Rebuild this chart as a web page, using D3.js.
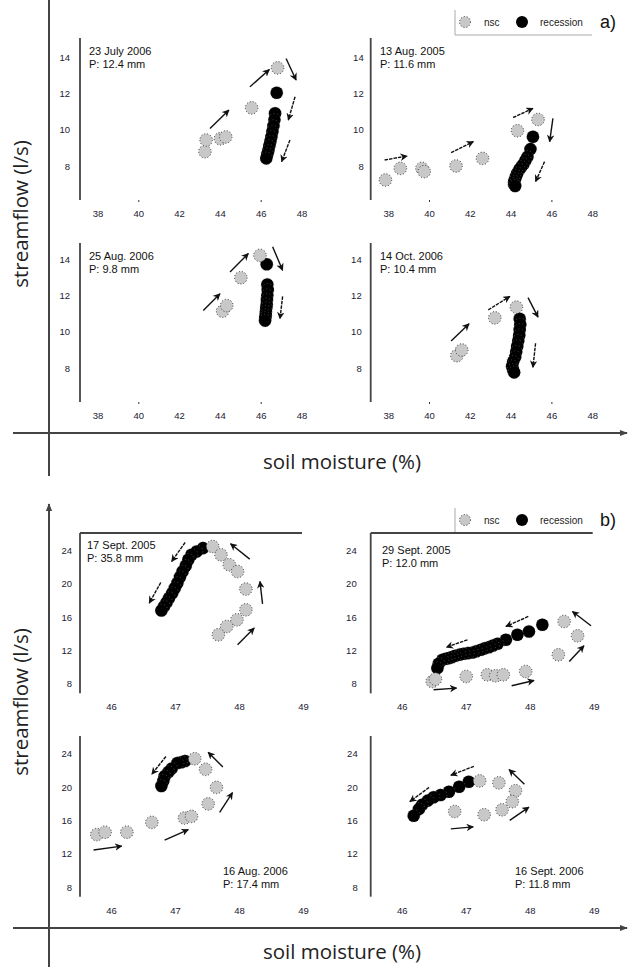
<!DOCTYPE html>
<html><head><meta charset="utf-8">
<script src="https://cdn.jsdelivr.net/npm/d3@7"></script>
<style>body{margin:0;background:#fff}</style>
</head><body><svg id="c" width="628" height="967"></svg>
<script>
// ---------- data ----------
const xTicksA = [38, 40, 42, 44, 46, 48];
const yTicksA = [8, 10, 12, 14];
const xTicksB = [46, 47, 48, 49];
const yTicksB = [8, 12, 16, 20, 24];
const legendLabels = ["nsc", "recession"];

const eventsA = ["23 July 2006", "13 Aug. 2005", "25 Aug. 2006", "14 Oct. 2006"];
const rainA = ["P: 12.4 mm", "P: 11.6 mm", "P: 9.8 mm", "P: 10.4 mm"];
const eventsB = ["17 Sept. 2005", "29 Sept. 2005", "16 Aug. 2006", "16 Sept. 2006"];
const rainB = ["P: 35.8 mm", "P: 12.0 mm", "P: 17.4 mm", "P: 11.8 mm"];

// [soil moisture %, streamflow l/s]
const nscA1 = [[43.24,8.79],[43.3,9.43],[44.0,9.5],[44.26,9.6],[45.53,11.2],[46.8,13.4]];
const recA1 = [[46.76,12.03],[46.68,10.9],[46.65,10.55],[46.6,10.2],[46.55,9.9],[46.5,9.6],[46.45,9.35],[46.4,9.1],[46.35,8.85],[46.3,8.65],[46.25,8.42]];
const arrA1 = [[43.49,10.07,44.42,11.08,0],[45.45,12.36,46.40,13.31,0],[47.22,13.92,47.71,12.73,0],[47.66,11.81,47.33,10.53,1],[47.41,9.43,47.0,8.24,1]];

const nscA2 = [[37.84,7.23],[38.57,7.87],[39.63,7.87],[39.74,7.69],[41.3,8.0],[42.6,8.42],[44.31,9.94],[45.32,10.56]];
const recA2 = [[45.07,9.61],[44.95,8.93],[44.8,8.5],[44.7,8.3],[44.6,8.1],[44.5,7.95],[44.4,7.8],[44.3,7.6],[44.25,7.45],[44.2,7.3],[44.15,7.15],[44.15,7.0],[44.2,6.9]];
const arrA2 = [[37.8,8.33,38.9,8.55,1],[41.06,8.73,42.15,9.34,1],[44.1,10.67,45.07,11.17,1],[46.05,10.62,45.89,9.34,0],[45.64,8.24,45.2,7.14,1]];

const nscA3 = [[44.11,11.13],[44.31,11.44],[45.0,12.97],[45.94,14.2]];
const recA3 = [[46.27,13.71],[46.3,12.6],[46.32,12.3],[46.3,12.0],[46.28,11.75],[46.27,11.5],[46.25,11.3],[46.23,11.1],[46.22,10.9],[46.2,10.75],[46.19,10.61]];
const arrA3 = [[43.16,11.17,43.98,12.09,0],[44.47,13.29,45.37,14.3,0],[46.56,14.67,47.05,13.38,0],[47.05,11.94,46.92,10.71,1]];

const nscA4 = [[41.34,8.68],[41.58,8.99],[43.2,10.76],[44.26,11.35]];
const recA4 = [[44.42,10.71],[44.45,10.4],[44.42,10.1],[44.4,9.8],[44.35,9.5],[44.3,9.2],[44.25,8.9],[44.2,8.6],[44.1,8.35],[44.05,8.1],[44.1,7.9],[44.15,7.76]];
const arrA4 = [[41.06,9.48,41.94,10.43,0],[42.88,11.2,43.94,11.94,1],[44.83,11.87,45.32,10.8,0],[45.2,9.36,45.07,8.04,1]];

const nscB1 = [[47.58,24.48],[47.71,23.49],[47.84,22.29],[47.97,21.48],[48.1,19.37],[48.1,16.88],[47.96,15.68],[47.8,14.88],[47.67,13.88]];
const recB1 = [[47.43,24.29],[47.33,23.88],[47.25,23.49],[47.2,22.89],[47.16,22.17],[47.11,21.48],[47.07,20.81],[47.03,20.09],[46.99,19.49],[46.95,18.89],[46.9,18.29],[46.86,17.76],[46.82,17.28],[46.78,16.8]];
const arrB1 = [[47.15,24.96,46.94,22.68,1],[46.77,20.16,46.59,17.69,1],[48.16,22.97,47.86,24.81,0],[48.36,17.6,48.32,20.28,0],[47.97,12.68,48.23,14.69,0]];

const nscB2 = [[46.47,8.28],[46.52,8.56],[47.0,8.88],[47.33,9.08],[47.46,8.96],[47.58,9.08],[47.93,9.48],[48.44,11.48],[48.74,13.76],[48.53,15.48]];
const recB2 = [[48.19,15.08],[47.98,14.28],[47.8,13.88],[47.62,13.28],[47.49,12.8],[47.42,12.6],[47.36,12.4],[47.29,12.25],[47.23,12.08],[47.16,11.9],[47.1,11.76],[47.03,11.68],[46.96,11.6],[46.9,11.5],[46.83,11.36],[46.78,11.2],[46.73,11.08],[46.68,11.0],[46.63,10.88],[46.57,10.4],[46.55,9.88]];
const arrB2 = [[47.97,16.08,47.62,14.88,1],[47.02,13.28,46.69,12.4,1],[46.49,7.28,46.85,7.48,0],[47.71,7.76,48.06,8.4,0],[48.61,10.68,48.84,12.56,0],[48.95,14.96,48.66,16.68,0]];

const nscB3 = [[45.77,14.32],[45.9,14.6],[46.24,14.6],[46.63,15.78],[47.14,16.3],[47.25,16.5],[47.51,18.0],[47.64,19.98],[47.47,22.15],[47.3,23.42]];
const recB3 = [[47.15,23.14],[47.09,23.0],[47.03,22.9],[46.94,22.23],[46.89,21.83],[46.83,21.32],[46.81,20.76],[46.78,20.14]];
const arrB3 = [[46.85,23.69,46.63,21.56,1],[47.74,22.43,47.51,24.2,0],[47.69,16.97,47.89,19.34,0],[46.83,13.65,47.2,14.92,0],[45.72,12.46,46.16,12.93,0]];

const nscB4 = [[47.21,20.76],[47.51,20.53],[47.77,19.58],[47.72,18.27],[47.56,17.29],[47.28,16.7],[46.82,17.09]];
const recB4 = [[47.04,20.65],[46.89,20.05],[46.73,19.46],[46.6,19.07],[46.49,18.8],[46.4,18.39],[46.31,17.88],[46.26,17.37],[46.18,16.58]];
const arrB4 = [[47.12,22.51,46.76,21.44,1],[46.42,19.98,46.12,18.27,1],[47.91,20.37,47.67,22.12,0],[47.68,16.02,47.98,17.61,0],[46.76,15.0,47.11,15.24,0]];

// ---------- layout ----------
const svg = d3.select("#c");
const defs = svg.append("defs");
defs.append("marker").attr("id","ah").attr("viewBox","0 0 10 10")
  .attr("refX",9).attr("refY",5).attr("markerWidth",7.5).attr("markerHeight",7.5)
  .attr("markerUnits","userSpaceOnUse").attr("orient","auto")
  .append("path").attr("d","M0,0 L10,5 L0,10 L3,5 Z").attr("fill","#111");
defs.append("marker").attr("id","bigah").attr("viewBox","0 0 10 10")
  .attr("refX",9).attr("refY",5).attr("markerWidth",8).attr("markerHeight",8)
  .attr("markerUnits","userSpaceOnUse").attr("orient","auto")
  .append("path").attr("d","M0,1 L10,5 L0,9 Z").attr("fill","#444");

const FONT = "'Liberation Sans', Arial, sans-serif";
const TITLEFONT = "'Open Sans', 'Noto Sans', sans-serif";

// outer axes
const outer = svg.append("g").attr("stroke","#444").attr("stroke-width",2);
outer.append("line").attr("x1",49).attr("x2",49).attr("y1",0).attr("y2",476);
outer.append("line").attr("x1",13).attr("x2",627).attr("y1",433).attr("y2",433).attr("marker-end","url(#bigah)");
outer.append("line").attr("x1",49).attr("x2",49).attr("y1",967).attr("y2",504).attr("marker-end","url(#bigah)");
outer.append("line").attr("x1",13).attr("x2",627).attr("y1",928).attr("y2",928).attr("marker-end","url(#bigah)");

function ylabel(cy){
  svg.append("text").attr("transform",`translate(28,${cy}) rotate(-90)`)
    .attr("text-anchor","middle").attr("font-family",TITLEFONT).attr("font-size",20.5)
    .attr("fill","#222").text("streamflow (l/s)");
}
function xlabel(y){
  svg.append("text").attr("x",342).attr("y",y).attr("text-anchor","middle")
    .attr("font-family",TITLEFONT).attr("font-size",20.5).attr("fill","#222").text("soil moisture (%)");
}
ylabel(214); ylabel(702); xlabel(469); xlabel(959);

function legend(y, tag){
  const g = svg.append("g");
  g.append("path").attr("d",`M455,${y-12} V${y+13} H592`).attr("fill","none").attr("stroke","#aaa").attr("stroke-width",1);
  g.append("circle").attr("cx",465).attr("cy",y).attr("r",5.5).attr("fill","#c8c8c8")
    .attr("stroke","#333").attr("stroke-dasharray","1,2").attr("stroke-width",1);
  g.append("text").attr("x",484).attr("y",y+3.5).attr("font-family",FONT).attr("font-size",10).attr("fill","#222").text(legendLabels[0]);
  g.append("circle").attr("cx",522).attr("cy",y).attr("r",6).attr("fill","#000");
  g.append("text").attr("x",540).attr("y",y+3.5).attr("font-family",FONT).attr("font-size",10).attr("fill","#222").text(legendLabels[1]);
  g.append("text").attr("x",600).attr("y",y+6).attr("font-family",FONT).attr("font-size",18).attr("fill","#111").text(tag);
}
legend(22, "a)");
legend(520, "b)");

function panel(o){
  const g = svg.append("g");
  const x = d3.scaleLinear().domain(o.xd).range([o.left+o.xoff, o.left+o.xoff+o.xspan]);
  const y = d3.scaleLinear().domain(o.yd).range([o.bottom-o.yoff, o.bottom-o.yoff-o.yspan]);
  g.append("line").attr("x1",o.left).attr("x2",o.left).attr("y1",o.top).attr("y2",o.bottom)
    .attr("stroke","#444").attr("stroke-width",1.8);
  if (o.topline) g.append("line").attr("x1",o.left).attr("x2",o.left+222).attr("y1",o.top).attr("y2",o.top)
    .attr("stroke","#444").attr("stroke-width",1.8);
  g.selectAll(".yl").data(o.yt).enter().append("text")
    .attr("x",o.left-o.ylab).attr("y",d=>y(d)+3.5).attr("text-anchor","end")
    .attr("font-family",FONT).attr("font-size",9.5).attr("fill","#223").text(d=>d);
  g.selectAll(".xl").data(o.xt).enter().append("text")
    .attr("x",d=>x(d)).attr("y",o.bottom+17).attr("text-anchor","middle")
    .attr("font-family",FONT).attr("font-size",9.5).attr("fill","#223").text(d=>d);
  if (o.xdots) g.selectAll(".xd").data(o.xdots).enter().append("line")
    .attr("x1",d=>x(d)).attr("x2",d=>x(d)).attr("y1",o.bottom).attr("y2",o.bottom+2)
    .attr("stroke","#333").attr("stroke-width",1);
  g.selectAll(".ar").data(o.arr).enter().append("line")
    .attr("x1",d=>x(d[0])).attr("y1",d=>y(d[1])).attr("x2",d=>x(d[2])).attr("y2",d=>y(d[3]))
    .attr("stroke","#111").attr("stroke-width",1.4)
    .attr("stroke-dasharray",d=>d[4]?"3.5,1":null)
    .attr("marker-end","url(#ah)");
  g.selectAll(".rc").data(o.rec).enter().append("circle")
    .attr("cx",d=>x(d[0])).attr("cy",d=>y(d[1])).attr("r",6.3)
    .attr("fill","#000").attr("stroke","#777").attr("stroke-width",0.6).attr("stroke-dasharray","1,2.5");
  g.selectAll(".ns").data(o.nsc).enter().append("circle")
    .attr("cx",d=>x(d[0])).attr("cy",d=>y(d[1])).attr("r",6.3)
    .attr("fill","#c8c8c8").attr("stroke","#333").attr("stroke-width",1).attr("stroke-dasharray","1,2");
  g.append("text").attr("x",o.tx).attr("y",o.ty).attr("font-family",FONT).attr("font-size",11).attr("fill","#111").text(o.ev);
  g.append("text").attr("x",o.tx).attr("y",o.ty+12.7).attr("font-family",FONT).attr("font-size",11).attr("fill","#111").text(o.rain);
}

const aBase = {xd:[38,48], xoff:18, xspan:204, yd:[8,14], yoff:34, yspan:109, xt:xTicksA, yt:yTicksA, xdots:[40,46]};
const bBase = {xd:[46,49], xoff:31.5, xspan:192, yd:[8,24], yoff:9.5, yspan:133.3, xt:xTicksB, yt:yTicksB};

panel({...aBase, left:80, top:38, bottom:200, ylab:10, nsc:nscA1, rec:recA1, arr:arrA1, ev:eventsA[0], rain:rainA[0], tx:89, ty:55});
panel({...aBase, left:370.7, top:38, bottom:200, ylab:7, nsc:nscA2, rec:recA2, arr:arrA2, ev:eventsA[1], rain:rainA[1], tx:380, ty:55});
panel({...aBase, left:80, top:243, bottom:402, ylab:10, nsc:nscA3, rec:recA3, arr:arrA3, ev:eventsA[2], rain:rainA[2], tx:89, ty:260});
panel({...aBase, left:370.7, top:243, bottom:402, ylab:9, nsc:nscA4, rec:recA4, arr:arrA4, ev:eventsA[3], rain:rainA[3], tx:380, ty:260});

panel({...bBase, left:80, top:533, bottom:693.3, ylab:8, topline:true, nsc:nscB1, rec:recB1, arr:arrB1, ev:eventsB[0], rain:rainB[0], tx:87, ty:549});
panel({...bBase, left:370.7, top:533, bottom:693.3, ylab:14, topline:true, nsc:nscB2, rec:recB2, arr:arrB2, ev:eventsB[1], rain:rainB[1], tx:382, ty:554});
panel({...bBase, left:80, top:736, bottom:896.7, ylab:8, nsc:nscB3, rec:recB3, arr:arrB3, ev:eventsB[2], rain:rainB[2], tx:223, ty:875});
panel({...bBase, left:370.7, top:736, bottom:896.7, ylab:13, nsc:nscB4, rec:recB4, arr:arrB4, ev:eventsB[3], rain:rainB[3], tx:515, ty:875});
</script>
</body></html>
